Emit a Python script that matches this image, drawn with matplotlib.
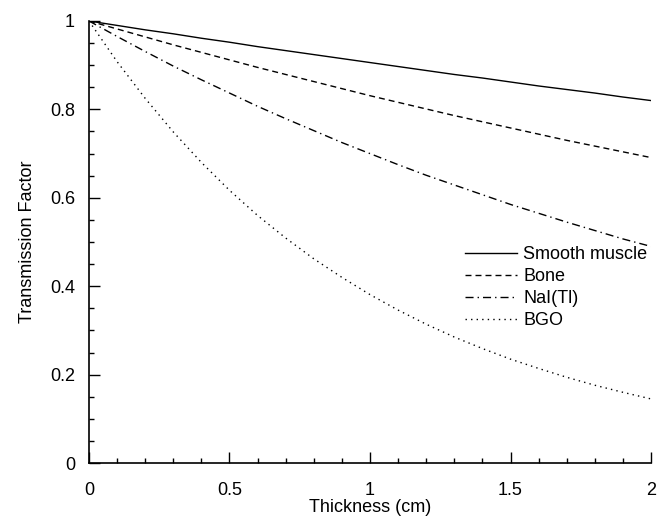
import numpy as np
import matplotlib
matplotlib.use("Agg")
import matplotlib.pyplot as plt
from matplotlib.ticker import MultipleLocator

# thickness in cm, read every 0.1 cm
thickness = [0.0, 0.1, 0.2, 0.3, 0.4, 0.5, 0.6, 0.7, 0.8, 0.9, 1.0,
             1.1, 1.2, 1.3, 1.4, 1.5, 1.6, 1.7, 1.8, 1.9, 2.0]

smooth_muscle = [1.000, 0.990, 0.980, 0.971, 0.961, 0.952, 0.942, 0.933, 0.924, 0.915, 0.906,
                 0.897, 0.888, 0.879, 0.871, 0.862, 0.853, 0.845, 0.837, 0.828, 0.820]
bone = [1.000, 0.982, 0.964, 0.946, 0.929, 0.912, 0.895, 0.879, 0.863, 0.847, 0.831,
        0.816, 0.801, 0.786, 0.772, 0.758, 0.744, 0.730, 0.717, 0.704, 0.691]
nai_tl = [1.000, 0.965, 0.931, 0.898, 0.867, 0.837, 0.807, 0.779, 0.752, 0.725, 0.700,
          0.675, 0.651, 0.629, 0.607, 0.585, 0.565, 0.545, 0.526, 0.507, 0.490]
bgo = [1.000, 0.908, 0.825, 0.749, 0.680, 0.617, 0.560, 0.509, 0.462, 0.420, 0.381,
       0.346, 0.314, 0.285, 0.259, 0.235, 0.214, 0.194, 0.176, 0.160, 0.145]

labels = ["Smooth muscle", "Bone", "NaI(Tl)", "BGO"]
x_ticks = [0, 0.5, 1, 1.5, 2]
y_ticks = [0, 0.2, 0.4, 0.6, 0.8, 1]

plt.rcParams['font.family'] = ['Liberation Sans', 'DejaVu Sans']
plt.rcParams['font.size'] = 13

fig = plt.figure(figsize=(6.66, 5.17), dpi=100)
ax = fig.add_axes([0.1336, 0.1044, 0.9775 - 0.1336, 0.9594 - 0.1044])

lw = 1.0
ax.plot(thickness, smooth_muscle, color='black', lw=lw, ls='-', label=labels[0])
ax.plot(thickness, bone, color='black', lw=lw, ls=(0, (4.3, 2.9)), label=labels[1])
ax.plot(thickness, nai_tl, color='black', lw=lw, ls=(0, (5.8, 2.9, 1, 2.9)), label=labels[2])
ax.plot(thickness, bgo, color='black', lw=lw, ls=(0, (1, 3)), label=labels[3])

ax.set_xlim(0, 2)
ax.set_ylim(0, 1)
ax.set_xticks(x_ticks)
ax.set_xticklabels([f"{v:g}" for v in x_ticks])
ax.set_yticks(y_ticks)
ax.set_yticklabels([f"{v:g}" for v in y_ticks])
ax.xaxis.set_minor_locator(MultipleLocator(0.1))
ax.yaxis.set_minor_locator(MultipleLocator(0.05))

ax.tick_params(which='major', direction='in', length=8, width=1)
ax.tick_params(which='minor', direction='in', length=3.8, width=1)
ax.tick_params(axis='x', which='major', pad=14)
ax.tick_params(axis='y', which='major', pad=10)

for side in ['top', 'right']:
    ax.spines[side].set_visible(False)
for side in ['left', 'bottom']:
    ax.spines[side].set_linewidth(1.2)

ax.set_xlabel("Thickness (cm)", labelpad=0)
ax.set_ylabel("Transmission Factor", labelpad=10)

ax.legend(loc='upper left', bbox_to_anchor=(465 / 666, 1 - 246 / 517),
          bbox_transform=fig.transFigure, frameon=False, borderpad=0,
          borderaxespad=0, handlelength=2.9, handletextpad=0.33,
          labelspacing=0.28)

fig.savefig("out.png", dpi=100)
